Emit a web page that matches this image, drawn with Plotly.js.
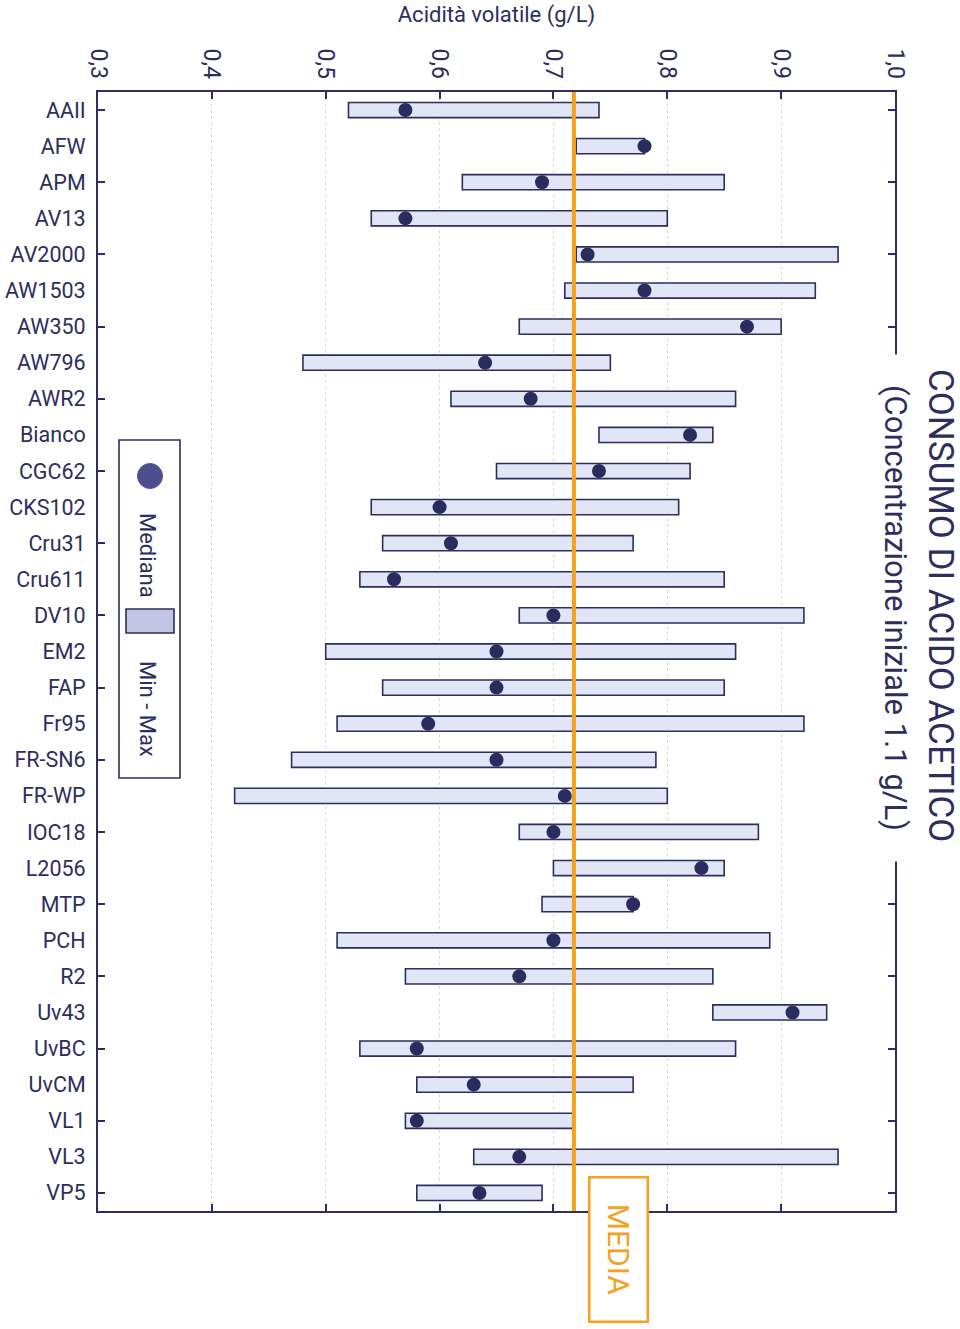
<!DOCTYPE html>
<html>
<head>
<meta charset="utf-8">
<script src="https://cdn.plot.ly/plotly-3.0.1.min.js"></script>
<style>html,body{margin:0;padding:0;background:#fff;} #chart{width:960px;height:1329px;}</style>
</head>
<body>
<div id="chart"></div>
<script>
const categories = ["AAII","AFW","APM","AV13","AV2000","AW1503","AW350","AW796","AWR2","Bianco","CGC62","CKS102","Cru31","Cru611","DV10","EM2","FAP","Fr95","FR-SN6","FR-WP","IOC18","L2056","MTP","PCH","R2","Uv43","UvBC","UvCM","VL1","VL3","VP5"];
const minVals = [0.52,0.72,0.62,0.54,0.72,0.71,0.67,0.48,0.61,0.74,0.65,0.54,0.55,0.53,0.67,0.50,0.55,0.51,0.47,0.42,0.67,0.70,0.69,0.51,0.57,0.84,0.53,0.58,0.57,0.63,0.58];
const maxVals = [0.74,0.78,0.85,0.80,0.95,0.93,0.90,0.75,0.86,0.84,0.82,0.81,0.77,0.85,0.92,0.86,0.85,0.92,0.79,0.80,0.88,0.85,0.77,0.89,0.84,0.94,0.86,0.77,0.717,0.95,0.69];
const medianVals = [0.57,0.78,0.69,0.57,0.73,0.78,0.87,0.64,0.68,0.82,0.74,0.60,0.61,0.56,0.70,0.65,0.65,0.59,0.65,0.71,0.70,0.83,0.77,0.70,0.67,0.91,0.58,0.63,0.58,0.67,0.635];
const MEDIA = 0.718;
const xTicks = [0.3,0.4,0.5,0.6,0.7,0.8,0.9,1.0];

const NAVY = '#2D2E5E';
const ORANGE = '#F2A21E';
const FONT = 'Roboto, DejaVu Sans Condensed, sans-serif';

// pixel -> paper helpers (plot area 98..895 x 92..1211)
const L = 98, R = 895, T = 92, B = 1211;
const px = v => (v - L) / (R - L);
const py = v => (B - v) / (B - T);

const traces = [
  {
    type: 'bar', orientation: 'h',
    y: categories,
    base: minVals,
    x: maxVals.map((m, i) => m - minVals[i]),
    width: 0.42,
    marker: {color: '#E1E5F5', line: {color: NAVY, width: 1.6}},
    hoverinfo: 'skip', showlegend: false
  },
  {
    type: 'scatter', mode: 'markers',
    y: categories, x: medianVals,
    marker: {size: 14, color: '#2B2C5E'},
    hoverinfo: 'skip', showlegend: false
  },
  {
    type: 'scatter', mode: 'markers',
    y: categories, x: medianVals, yaxis: 'y2',
    marker: {size: 1, color: 'rgba(0,0,0,0)'},
    hoverinfo: 'skip', showlegend: false
  }
];

const layout = {
  width: 960, height: 1329,
  margin: {l: L, r: 960 - R, t: T, b: 1329 - B},
  paper_bgcolor: '#fff', plot_bgcolor: '#fff',
  separators: ',.',
  font: {family: FONT, color: NAVY},
  showlegend: false,
  bargap: 0,
  xaxis: {
    side: 'top', range: [0.3, 1.0], tickmode: 'array', tickvals: xTicks, tickformat: '.1f',
    tickangle: 90, ticks: 'inside', ticklen: 7, tickwidth: 2, tickcolor: NAVY,
    showline: true, linecolor: NAVY, linewidth: 2, mirror: 'ticks',
    showgrid: true, gridcolor: '#d8d8d8', griddash: 'dot', gridwidth: 1, zeroline: false,
    tickfont: {size: 23, color: NAVY, family: FONT}, ticklabelstandoff: 3,
    title: {text: 'Acidità volatile (g/L)', font: {size: 22, color: NAVY, family: FONT}, standoff: 20}
  },
  yaxis: {
    type: 'category', categoryorder: 'array', categoryarray: categories,
    range: [categories.length - 0.5, -0.5],
    ticks: '', showline: true, linecolor: NAVY, linewidth: 2, mirror: true,
    showgrid: false, zeroline: false,
    tickfont: {size: 21.5, color: NAVY, family: FONT}, ticklabelstandoff: 6
  },
  yaxis2: {
    overlaying: 'y', side: 'left', type: 'category', categoryorder: 'array', categoryarray: categories,
    range: [categories.length - 0.5, -0.5],
    tickmode: 'array', tickvals: categories.filter((c, i) => i % 2 === 0),
    ticks: 'inside', ticklen: 7, tickwidth: 2, tickcolor: NAVY, showticklabels: false,
    showline: true, linecolor: NAVY, linewidth: 2, mirror: 'ticks', showgrid: false, zeroline: false
  },
  shapes: [
    {type: 'line', xref: 'x', yref: 'paper', x0: MEDIA, x1: MEDIA, y0: 0, y1: 1,
     line: {color: ORANGE, width: 4}, layer: 'above'},
    {type: 'rect', xref: 'paper', yref: 'paper', x0: px(119), x1: px(180), y0: py(778), y1: py(440),
     line: {color: NAVY, width: 1.6}, fillcolor: '#fff', layer: 'above'},
    {type: 'circle', xref: 'paper', yref: 'paper', x0: px(137.5), x1: px(162.5), y0: py(488.5), y1: py(463.5),
     line: {color: '#4E4E8E', width: 1}, fillcolor: '#4E4E8E', layer: 'above'},
    {type: 'rect', xref: 'paper', yref: 'paper', x0: px(126), x1: px(174), y0: py(633), y1: py(609),
     line: {color: NAVY, width: 1.6}, fillcolor: '#C3C3E3', layer: 'above'}
  ],
  annotations: [
    {text: 'CONSUMO DI ACIDO ACETICO', xref: 'paper', yref: 'paper', x: px(941), y: py(606),
     textangle: 90, showarrow: false, xanchor: 'center', yanchor: 'middle',
     font: {size: 35, color: NAVY, family: FONT}},
    {text: '(Concentrazione iniziale 1.1 g/L)', xref: 'paper', yref: 'paper', x: px(895), y: py(608),
     textangle: 90, showarrow: false, xanchor: 'center', yanchor: 'middle', bgcolor: '#fff',
     width: 504, height: 40,
     font: {size: 31, color: NAVY, family: FONT}},
    {text: 'MEDIA', xref: 'paper', yref: 'paper', x: px(618.5), y: py(1249.5),
     textangle: 90, showarrow: false, xanchor: 'center', yanchor: 'middle', bgcolor: '#fff',
     bordercolor: ORANGE, borderwidth: 2.5, borderpad: 0, width: 142, height: 56,
     font: {size: 30, color: ORANGE, family: FONT}},
    {text: 'Mediana', xref: 'paper', yref: 'paper', x: px(148), y: py(555),
     textangle: 90, showarrow: false, xanchor: 'center', yanchor: 'middle',
     font: {size: 22, color: NAVY, family: FONT}},
    {text: 'Min - Max', xref: 'paper', yref: 'paper', x: px(148), y: py(709),
     textangle: 90, showarrow: false, xanchor: 'center', yanchor: 'middle',
     font: {size: 22, color: NAVY, family: FONT}}
  ]
};

Plotly.newPlot('chart', traces, layout, {displayModeBar: false, staticPlot: true});
</script>
</body>
</html>
